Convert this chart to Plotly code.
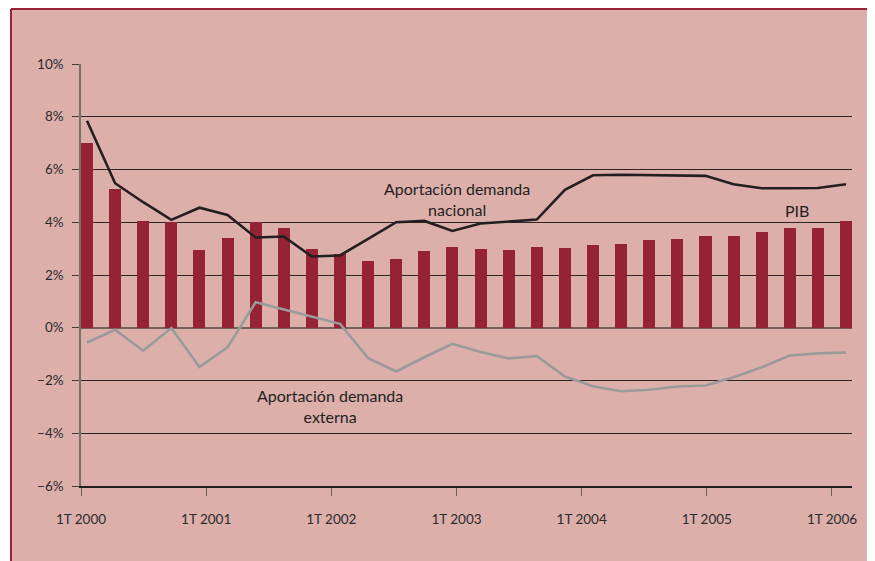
import plotly.graph_objects as go

# 28 observaciones trimestrales (posición en el eje de categorías)
periodos = list(range(28))

pib = [7.0, 5.27, 4.05, 4.0, 2.95, 3.41, 4.0, 3.79, 2.99, 2.78,
       2.54, 2.61, 2.92, 3.07, 2.99, 2.95, 3.07, 3.03, 3.14, 3.18,
       3.33, 3.37, 3.48, 3.48, 3.64, 3.79, 3.79, 4.05]

demanda_nacional = [7.85, 5.48, 4.76, 4.09, 4.55, 4.28, 3.42, 3.46, 2.70, 2.74,
                    3.37, 4.00, 4.05, 3.67, 3.95, 4.02, 4.10, 5.23, 5.78, 5.80,
                    5.79, 5.78, 5.76, 5.44, 5.29, 5.29, 5.30, 5.44]

demanda_externa = [-0.56, -0.08, -0.87, -0.01, -1.49, -0.74, 0.97, 0.70, 0.42, 0.15,
                   -1.15, -1.66, -1.12, -0.61, -0.92, -1.16, -1.07, -1.85, -2.22, -2.41,
                   -2.35, -2.23, -2.19, -1.88, -1.50, -1.05, -0.97, -0.94]

etiquetas_x = ["1T 2000", "1T 2001", "1T 2002", "1T 2003", "1T 2004", "1T 2005", "1T 2006"]
ticks_y = [-6, -4, -2, 0, 2, 4, 6, 8, 10]

ROJO = "#962335"
ROSA = "#DCAFAB"
NEGRO = "#231F20"
GRIS = "#999B9B"
FUENTE = "Lato"

fig = go.Figure()

fig.add_trace(go.Bar(x=periodos, y=pib, marker=dict(color=ROJO, line=dict(width=0)),
                     width=0.43, name="PIB", showlegend=False))
fig.add_trace(go.Scatter(x=periodos, y=demanda_nacional, mode="lines",
                         line=dict(color=NEGRO, width=2.6), showlegend=False))
fig.add_trace(go.Scatter(x=periodos, y=demanda_externa, mode="lines",
                         line=dict(color=GRIS, width=2.6), showlegend=False))

# eje auxiliar solo para las etiquetas de años
fig.add_trace(go.Scatter(x=[0, 6], y=[None, None], xaxis="x2", showlegend=False,
                         hoverinfo="skip"))

fig.update_layout(
    width=890, height=570,
    margin=dict(l=73, r=46, t=56, b=92),
    paper_bgcolor=ROSA,
    plot_bgcolor=ROSA,
    font=dict(family=FUENTE, color="#2b2b2b", size=13),
    bargap=0,
    xaxis=dict(range=[-0.213, 27.213], showticklabels=False, ticks="",
               showgrid=False, zeroline=False, showline=False, automargin=False),
    xaxis2=dict(overlaying="x", anchor="y", side="bottom", range=[0, 6.16],
                tickmode="array", tickvals=list(range(len(etiquetas_x))),
                ticktext=etiquetas_x, ticks="outside", ticklen=8, tickwidth=1.3,
                tickcolor="#6e5e5c", showline=True, linecolor=NEGRO, linewidth=2,
                showgrid=False, zeroline=False, ticklabelstandoff=12, automargin=False,
                tickfont=dict(family=FUENTE, size=13.5, color="#2b2b2b")),
    yaxis=dict(range=[-6, 10], tickmode="array", tickvals=ticks_y,
               ticktext=[("−" if v < 0 else "") + f"{abs(v)}%" for v in ticks_y],
               ticks="outside", ticklen=7, tickwidth=1.3, tickcolor="#4a3c3b",
               showgrid=True, gridcolor="#2e2424", gridwidth=1.3,
               zeroline=True, zerolinecolor="#76605e", zerolinewidth=1.5,
               showline=True, linecolor="#7d6e6c", linewidth=1.5,
               ticklabelstandoff=6, automargin=False,
               tickfont=dict(family=FUENTE, size=13.5, color="#2b2b2b")),
    shapes=[
        # franja blanca a la izquierda del recuadro
        dict(type="rect", xref="paper", yref="paper", x0=-0.2, x1=-0.0908,
             y0=-0.3, y1=1.3, fillcolor="white", line=dict(width=0), layer="below"),
        dict(type="line", xref="paper", yref="paper", x0=-0.0908, x1=1.2,
             y0=1.1305, y1=1.1305, line=dict(color="#9B2335", width=2)),
        dict(type="line", xref="paper", yref="paper", x0=-0.0908, x1=-0.0908,
             y0=-0.3, y1=1.1305, line=dict(color="#9B2335", width=2)),
    ],
    annotations=[
        dict(x=13.16, y=4.89, xref="x", yref="y", text="Aportación demanda<br>nacional",
             showarrow=False, font=dict(family=FUENTE, size=16, color=NEGRO)),
        dict(x=25.26, y=4.43, xref="x", yref="y", text="PIB",
             showarrow=False, font=dict(family=FUENTE, size=16, color=NEGRO)),
        dict(x=8.64, y=-2.95, xref="x", yref="y", text="Aportación demanda<br>externa",
             showarrow=False, font=dict(family=FUENTE, size=16, color=NEGRO)),
    ],
)

# sin barras de desplazamiento: la figura llena justo la ventana
fig.write_html("out.html", post_script="document.documentElement.style.overflow = 'hidden'; document.body.style.overflow = 'hidden';")
